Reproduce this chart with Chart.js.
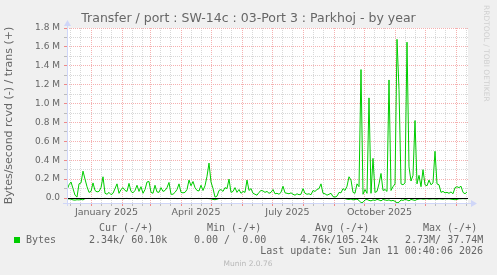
<!DOCTYPE html>
<html>
<head>
<meta charset="utf-8">
<script src="https://cdn.jsdelivr.net/npm/chart.js@4/dist/chart.umd.min.js"></script>
<style>
  html, body { margin: 0; padding: 0; background: #f0f0f0; }
  canvas { display: block; }
</style>
</head>
<body>
<canvas id="chart" width="497" height="275"></canvas>
<script>
// first sample is 2024-12-08, one sample every 2 days, values in kB/s
const startDate = [2024, 11, 8];
const stepDays = 2;
const spanDays = 401;

const trans = [
  85, 140, 170, 100, 30, 10, 150, 160, 285, 200,
  120, 60, 70, 160, 80, 65, 70, 110, 225, 50,
  40, 60, 35, 50, 100, 150, 50, 90, 110, 80,
  70, 155, 70, 55, 80, 135, 70, 120, 50, 90,
  170, 175, 60, 50, 135, 65, 60, 110, 70, 80,
  110, 165, 40, 40, 60, 90, 150, 60, 55, 60,
  90, 190, 130, 175, 110, 80, 75, 135, 80, 130,
  230, 370, 170, 100, 10, 20, 80, 90, 70, 110,
  100, 200, 60, 70, 110, 60, 90, 50, 70, 60,
  190, 80, 100, 50, 40, 30, 60, 80, 75, 60,
  70, 50, 60, 90, 45, 50, 40, 60, 125, 55,
  50, 45, 55, 40, 30, 45, 35, 40, 100, 50,
  40, 45, 35, 80, 70, 90, 100, 150, 50, 45,
  30, 40, 50, 15, 10, 20, 60, 55, 100, 80,
  125, 225, 190, 60, 50, 150, 120, 1360, 40, 90,
  50, 1060, 50, 420, 60, 70, 150, 260, 80, 90,
  70, 1250, 80, 120, 150, 1680, 1150, 150, 140, 160,
  1650, 330, 180, 240, 820, 150, 240, 120, 300, 140,
  130, 190, 140, 160, 495, 150, 140, 60, 70, 55,
  60, 50, 65, 45, 110, 120, 110, 125, 60, 45,
  65
];

const rcvd = [
  -10, -8, -12, -20, -22, -18, -20, -15, -20, -6,
  -5, -4, -6, -5, -7, -4, -5, -6, -5, -4,
  -5, -6, -4, -5, -5, -6, -4, -5, -7, -5,
  -4, -6, -5, -5, -4, -6, -5, -5, -4, -6,
  -5, -5, -4, -6, -5, -5, -4, -6, -5, -5,
  -4, -6, -5, -5, -4, -6, -5, -5, -4, -6,
  -5, -5, -4, -6, -5, -5, -4, -6, -5, -5,
  -4, -6, -8, -15, -18, -12, -5, -5, -4, -6,
  -5, -5, -4, -6, -5, -5, -4, -6, -5, -5,
  -4, -6, -5, -5, -4, -6, -5, -5, -4, -6,
  -5, -5, -4, -6, -5, -5, -4, -6, -5, -5,
  -4, -6, -5, -5, -4, -6, -5, -5, -4, -6,
  -5, -5, -4, -6, -5, -5, -4, -6, -5, -5,
  -4, -6, -5, -5, -4, -6, -5, -5, -4, -6,
  -12, -15, -10, -20, -15, -12, -25, -50, -45, -20,
  -15, -25, -30, -20, -25, -15, -20, -30, -15, -20,
  -25, -20, -30, -25, -35, -50, -45, -20, -25, -15,
  -20, -30, -15, -20, -25, -15, -10, -8, -12, -10,
  -8, -12, -10, -8, -10, -12, -8, -10, -12, -8,
  -10, -8, -12, -15, -18, -15, -8, -8, -6, -8,
  -8
];

const labelMonths = [[2025, 0, 'January 2025'], [2025, 3, 'April 2025'], [2025, 6, 'July 2025'], [2025, 9, 'October 2025']];
const yMajor = [0, 0.2, 0.4, 0.6, 0.8, 1.0, 1.2, 1.4, 1.6, 1.8];
const yMinor = [0.1, 0.3, 0.5, 0.7, 0.9, 1.1, 1.3, 1.5, 1.7];

const legendHead = ['Cur (-/+)', 'Min (-/+)', 'Avg (-/+)', 'Max (-/+)'];
const legendRow = ['2.34k/ 60.10k', '0.00 /  0.00', '4.76k/105.24k', '2.73M/ 37.74M'];
const lastUpdate = 'Last update: Sun Jan 11 00:40:06 2026';

const DAY = 86400000;
const t0 = Date.UTC(startDate[0], startDate[1], startDate[2]);
function dayOf(y, m, d) { return (Date.UTC(y, m, d) - t0) / DAY; }

// month starts (major), 10th/20th (minor), label ticks in mid month
const xTicks = [];
for (let m = 0; m <= 13; m++) {
  const y = 2024 + Math.floor((m + 11) / 12), mm = (m + 11) % 12;
  const d1 = dayOf(y, mm, 1);
  if (d1 >= 0 && d1 <= spanDays) xTicks.push({ value: d1, kind: 'major' });
  [11, 21].forEach(d => {
    const dv = dayOf(y, mm, d);
    if (dv > 0 && dv < spanDays) xTicks.push({ value: dv, kind: 'minor' });
  });
}
labelMonths.forEach(([y, m, text]) => {
  xTicks.push({ value: (dayOf(y, m, 1) + dayOf(y, m + 1, 1)) / 2, kind: 'label', text });
});
xTicks.sort((a, b) => a.value - b.value);

const yTicks = yMajor.map(v => ({ value: v * 1e6, kind: 'major' }))
  .concat(yMinor.map(v => ({ value: v * 1e6, kind: 'minor' })))
  .sort((a, b) => a.value - b.value);

const RED = '#f5b0b0';
const GREY = '#d8d8d8';
const AXIS = '#cfd6f8';
const FONT = '#666666';

const munin = {
  id: 'munin',
  beforeDraw(chart) {
    const { ctx, chartArea: a } = chart;
    ctx.save();
    ctx.fillStyle = '#f0f0f0';
    ctx.fillRect(0, 0, chart.width, chart.height);
    ctx.fillStyle = '#ffffff';
    ctx.fillRect(a.left, a.top, a.right - a.left, a.bottom - a.top);
    ctx.restore();
  },
  afterDatasetsDraw(chart) {
    const { ctx, chartArea: a } = chart;
    const y0 = Math.round(chart.scales.y.getPixelForValue(0)) + 0.5;
    ctx.save();
    ctx.strokeStyle = '#000000';
    ctx.lineWidth = 1;
    ctx.beginPath();
    ctx.moveTo(a.left, y0);
    ctx.lineTo(a.right, y0);
    ctx.stroke();

    // axes with arrows
    const xl = a.left + 0.5, yb = a.bottom + 0.5;
    ctx.strokeStyle = AXIS;
    ctx.fillStyle = AXIS;
    ctx.beginPath();
    ctx.moveTo(a.left - 4, yb);
    ctx.lineTo(a.right + 3, yb);
    ctx.moveTo(xl, a.bottom + 3);
    ctx.lineTo(xl, a.top - 3);
    ctx.stroke();
    ctx.beginPath();
    ctx.moveTo(a.right + 9, yb);
    ctx.lineTo(a.right + 3, yb - 3.5);
    ctx.lineTo(a.right + 3, yb + 3.5);
    ctx.closePath();
    ctx.fill();
    ctx.beginPath();
    ctx.moveTo(xl, a.top - 8);
    ctx.lineTo(xl - 3.5, a.top - 2);
    ctx.lineTo(xl + 3.5, a.top - 2);
    ctx.closePath();
    ctx.fill();
    ctx.restore();
  },
  afterDraw(chart) {
    const { ctx } = chart;
    ctx.save();
    ctx.fillStyle = FONT;
    ctx.textBaseline = 'middle';
    ctx.textAlign = 'center';
    ctx.font = '12.5px "DejaVu Sans"';
    ctx.fillText('Transfer / port : SW-14c : 03-Port 3 : Parkhoj - by year', 248.5, 19);

    ctx.font = '10px "DejaVu Sans Mono"';
    ctx.textAlign = 'left';
    const cols = [89, 194, 300, 405];
    const heads = [99, 207, 315, 423];
    legendHead.forEach((t, i) => ctx.fillText(t, heads[i], 228));
    ctx.fillText('Bytes', 26, 240);
    legendRow.forEach((t, i) => ctx.fillText(t, cols[i], 240));
    ctx.textAlign = 'right';
    ctx.fillText(lastUpdate, 483, 251);
    ctx.fillStyle = '#00cc00';
    ctx.fillRect(14, 237, 6, 6);

    ctx.fillStyle = '#b8b8b8';
    ctx.textAlign = 'center';
    ctx.font = '7.5px "DejaVu Sans"';
    ctx.fillText('Munin 2.0.76', 248, 264);

    ctx.fillStyle = '#d0d0d0';
    ctx.translate(486, 5);
    ctx.rotate(Math.PI / 2);
    ctx.textAlign = 'left';
    ctx.fillText('RRDTOOL / TOBI OETIKER', 0, 0);
    ctx.restore();
  }
};

const points = arr => arr.map((v, i) => ({ x: i * stepDays, y: v * 1000 }));

new Chart(document.getElementById('chart'), {
  type: 'line',
  data: {
    datasets: [{
      label: 'trans',
      data: points(trans),
      borderColor: '#00cc00',
      borderWidth: 1,
      pointRadius: 0,
      tension: 0
    }, {
      label: 'rcvd',
      data: points(rcvd),
      borderColor: '#00cc00',
      borderWidth: 1,
      pointRadius: 0,
      tension: 0
    }]
  },
  options: {
    responsive: false,
    animation: false,
    devicePixelRatio: 1,
    layout: { padding: { left: 0, top: 28, right: 29, bottom: 52 } },
    plugins: { legend: { display: false }, tooltip: { enabled: false } },
    scales: {
      x: {
        type: 'linear',
        min: 0,
        max: spanDays,
        offset: false,
        afterBuildTicks: s => { s.ticks = xTicks.map(t => ({ ...t })); },
        afterFit: s => { s.height = 20; },
        border: {
          display: false,
          dash: c => c.tick && c.tick.kind === 'major' ? [1, 1] : [1, 1]
        },
        grid: {
          drawTicks: true,
          tickLength: 3,
          color: c => !c.tick ? 'transparent' : c.tick.kind === 'major' ? RED : c.tick.kind === 'minor' ? GREY : 'transparent',
          tickColor: c => !c.tick ? 'transparent' : c.tick.kind === 'major' ? '#e88' : c.tick.kind === 'minor' ? '#bbb' : 'transparent'
        },
        ticks: {
          autoSkip: false,
          maxRotation: 0,
          padding: 1,
          color: FONT,
          font: { family: 'DejaVu Sans', size: 9.5 },
          callback: (v, i, ticks) => ticks[i].kind === 'label' ? ticks[i].text : ''
        }
      },
      y: {
        min: -52600,
        max: 1800000,
        afterBuildTicks: s => { s.ticks = yTicks.map(t => ({ ...t })); },
        afterFit: s => { s.width = 67; },
        border: { display: false, dash: [1, 1] },
        grid: {
          drawTicks: true,
          tickLength: 3,
          color: c => !c.tick ? 'transparent' : c.tick.kind === 'major' ? RED : GREY,
          tickColor: c => !c.tick ? 'transparent' : c.tick.kind === 'major' ? '#e88' : '#bbb'
        },
        title: {
          display: true,
          text: 'Bytes/second rcvd (-) / trans (+)',
          color: FONT,
          font: { family: 'DejaVu Sans', size: 11 },
          padding: { top: 3, bottom: 0 }
        },
        ticks: {
          autoSkip: false,
          padding: 4,
          color: FONT,
          font: { family: 'DejaVu Sans', size: 9 },
          callback: (v, i, ticks) => {
            if (ticks[i].kind !== 'major') return '';
            return v === 0 ? '0.0' : (v / 1e6).toFixed(1) + ' M';
          }
        }
      }
    }
  },
  plugins: [munin]
});
</script>
</body>
</html>
